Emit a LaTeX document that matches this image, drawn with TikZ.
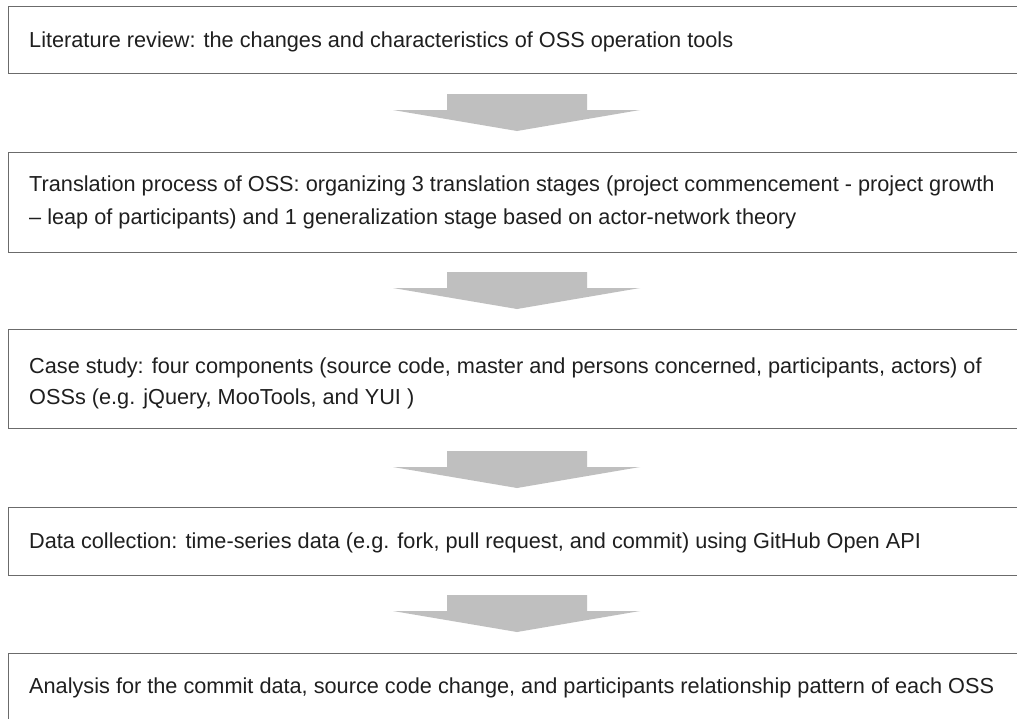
\documentclass[tikz,border=0pt]{standalone}
\usepackage{fontspec}
\setmainfont{Liberation Sans}
\begin{document}
\begin{tikzpicture}[x=1pt,y=-1pt,
  boxline/.style={draw=black!58, line width=1pt},
  steptext/.style={anchor=base west, inner sep=0pt, font=\fontsize{21.7}{26}\selectfont, text=black!88},
  flowarrow/.style={fill=black!25, draw=none}]
\useasboundingbox (0,0) rectangle (1017,718);
\clip (0,0) rectangle (1017,718);
\fill[white] (0,0) rectangle (1017,718);
% boxes (open on the right)
\draw[boxline] (1020,6) -- (8,6) -- (8,73) -- (1020,73);
\draw[boxline] (1020,152) -- (8,152) -- (8,252) -- (1020,252);
\draw[boxline] (1020,329) -- (8,329) -- (8,428) -- (1020,428);
\draw[boxline] (1020,507) -- (8,507) -- (8,575) -- (1020,575);
\draw[boxline] (1020,653) -- (8,653) -- (8,730);
% texts
\node[steptext] (t1) at (29,47.5) {Literature review: the changes and characteristics of OSS operation tools};
\node[steptext] (t2a) at (29,191) {Translation process of OSS: organizing 3 translation stages (project commencement - project growth};
\node[steptext] (t2b) at (29,224) {{\textendash} leap of participants) and 1 generalization stage based on actor-network theory};
\node[steptext] (t3a) at (29,373) {Case study: four components (source code, master and persons concerned, participants, actors) of};
\node[steptext] (t3b) at (29,404) {OSSs (e.g. jQuery, MooTools, and YUI )};
\node[steptext] (t4) at (29,548.5) {Data collection: time-series data (e.g. fork, pull request, and commit) using GitHub Open API};
\node[steptext] (t5) at (29,693.5) {Analysis for the commit data, source code change, and participants relationship pattern of each OSS};
% arrows
\foreach \n/\ty in {a1/94, a2/272, a3/451, a4/595}{
  \coordinate (\n) at (517,\ty);
  \fill[flowarrow] (\n) ++(-70,0) -- ++(140,0) -- ++(0,16) -- ++(53,0) -- ++(-123,21) -- ++(-124,-21) -- ++(54,0) -- cycle;
}
\end{tikzpicture}
\end{document}
